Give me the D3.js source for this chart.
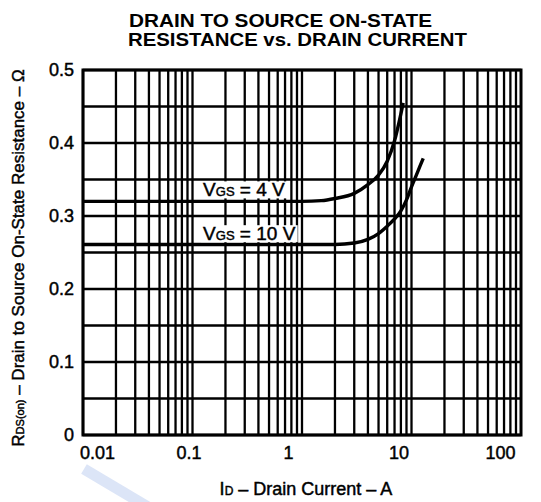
<!DOCTYPE html>
<html>
<head>
<meta charset="utf-8">
<script src="https://cdn.jsdelivr.net/npm/d3@7"></script>
<style>
  body { margin: 0; background: #fff; }
  svg { display: block; font-family: "Liberation Sans", Arial, Helvetica, sans-serif; }
  .ink { stroke: #000; stroke-width: 0.45px; }
</style>
</head>
<body>
<div id="chart"></div>
<script>
// chart values
var xTicks = [0.01, 0.1, 1, 10, 100];
var xTickLabels = ["0.01", "0.1", "1", "10", "100"];
var yTicks = [0, 0.1, 0.2, 0.3, 0.4, 0.5];
var yTickLabels = ["0", "0.1", "0.2", "0.3", "0.4", "0.5"];

// VGS = 4 V
var id4 = [0.01, 1, 1.5, 2, 3, 4, 5, 6, 7, 8, 8.4];
var r4 = [0.32, 0.32, 0.321, 0.324, 0.331, 0.343, 0.356, 0.375, 0.403, 0.44, 0.455];
// VGS = 10 V
var id10 = [0.01, 1, 2, 3, 4, 5, 6, 7, 8, 9, 10, 11, 12, 12.8];
var r10 = [0.261, 0.261, 0.261, 0.263, 0.268, 0.276, 0.286, 0.296, 0.307, 0.322, 0.34, 0.355, 0.369, 0.379];

var seriesLabels = ["4 V", "10 V"];

var width = 541, height = 502;
var margin = {top: 70, right: 20, bottom: 67, left: 83};

var svg = d3.select("#chart").append("svg")
    .attr("width", width)
    .attr("height", height);

var x = d3.scaleLog()
    .domain([0.01, 100])
    .range([margin.left, width - margin.right]);

var y = d3.scaleLinear()
    .domain([0, 0.5])
    .range([height - margin.bottom, margin.top]);

// light blue scan mark under the axis
svg.append("line")
    .attr("x1", 84).attr("y1", 469)
    .attr("x2", 148).attr("y2", 507)
    .attr("stroke", "#dce5f7")
    .attr("stroke-width", 11);

// log grid: 1..9 in every decade
var vLines = [];
for (var e = -2; e < 2; e++) {
    for (var k = 1; k < 10; k++) vLines.push(k * Math.pow(10, e));
}
var hLines = d3.range(0, 11).map(function (i) { return i * 0.05; });

var grid = svg.append("g").attr("stroke", "#000").attr("stroke-width", 2.3);
grid.selectAll("line.v")
    .data(vLines)
    .enter().append("line")
    .attr("class", "v")
    .attr("x1", function (d) { return x(d); })
    .attr("x2", function (d) { return x(d); })
    .attr("y1", y(0))
    .attr("y2", y(0.5));
grid.selectAll("line.h")
    .data(hLines)
    .enter().append("line")
    .attr("class", "h")
    .attr("x1", x(0.01))
    .attr("x2", x(100))
    .attr("y1", function (d) { return y(d); })
    .attr("y2", function (d) { return y(d); });

svg.append("rect")
    .attr("x", x(0.01))
    .attr("y", y(0.5))
    .attr("width", x(100) - x(0.01))
    .attr("height", y(0) - y(0.5))
    .attr("fill", "none")
    .attr("stroke", "#000")
    .attr("stroke-width", 3);

// curves
var line = d3.line()
    .x(function (d) { return x(d[0]); })
    .y(function (d) { return y(d[1]); })
    .curve(d3.curveMonotoneX);

[d3.zip(id4, r4), d3.zip(id10, r10)].forEach(function (pts) {
    svg.append("path")
        .datum(pts)
        .attr("d", line)
        .attr("fill", "none")
        .attr("stroke", "#000")
        .attr("stroke-width", 3.4);
});

// curve labels with white boxes
var labelAt = [[0.125, 0.32], [0.125, 0.26]];
seriesLabels.forEach(function (s, i) {
    var g = svg.append("g");
    var t = g.append("text")
        .attr("class", "ink")
        .attr("x", x(labelAt[i][0]))
        .attr("y", y(labelAt[i][1]) - 5)
        .attr("font-size", 19)
        .attr("fill", "#000");
    t.append("tspan").text("V");
    t.append("tspan").attr("font-size", 13).text("GS");
    t.append("tspan").text(" = " + s);
    var b = t.node().getBBox();
    g.insert("rect", "text")
        .attr("x", b.x - 2)
        .attr("y", b.y + 2)
        .attr("width", b.width + 4)
        .attr("height", b.height - 4)
        .attr("fill", "#fff");
});

// axes
var xShift = [14, -4, -14, -13, -21];
var xAxis = d3.axisBottom(x)
    .tickValues(xTicks)
    .tickSize(0)
    .tickPadding(0)
    .tickFormat(function (d, i) { return xTickLabels[i]; });
var gX = svg.append("g")
    .attr("transform", "translate(0," + (y(0) + 24) + ")")
    .call(xAxis);
gX.select(".domain").remove();
gX.selectAll("text")
    .attr("class", "ink")
    .attr("font-size", 18)
    .attr("font-family", null)
    .attr("fill", "#000")
    .attr("dy", 0)
    .attr("dx", function (d, i) { return xShift[i]; });

var yAxis = d3.axisLeft(y)
    .tickValues(yTicks)
    .tickSize(0)
    .tickPadding(9)
    .tickFormat(function (d, i) { return yTickLabels[i]; });
var gY = svg.append("g")
    .attr("transform", "translate(" + x(0.01) + ",0)")
    .call(yAxis);
gY.select(".domain").remove();
gY.selectAll("text")
    .attr("class", "ink")
    .attr("font-size", 18)
    .attr("font-family", null)
    .attr("fill", "#000");

// titles
var title = svg.append("g")
    .attr("font-weight", "bold")
    .attr("font-size", 19)
    .attr("text-anchor", "start");
title.append("text").attr("x", 129).attr("y", 27)
    .attr("textLength", 303).attr("lengthAdjust", "spacingAndGlyphs")
    .text("DRAIN TO SOURCE ON-STATE");
title.append("text").attr("x", 128).attr("y", 46)
    .attr("textLength", 339).attr("lengthAdjust", "spacingAndGlyphs")
    .text("RESISTANCE vs. DRAIN CURRENT");

var xt = svg.append("text")
    .attr("class", "ink")
    .attr("x", (x(0.01) + x(100)) / 2 + 4)
    .attr("y", 495)
    .attr("text-anchor", "middle")
    .attr("font-size", 18);
xt.append("tspan").text("I");
xt.append("tspan").attr("font-size", 12).text("D");
xt.append("tspan").text(" \u2013 Drain Current \u2013 A");

var yt = svg.append("text")
    .attr("class", "ink")
    .attr("transform", "translate(24," + 258 + ") rotate(-90)")
    .attr("text-anchor", "middle")
    .attr("font-size", 17);
yt.append("tspan").text("R");
yt.append("tspan").attr("font-size", 11).text("DS(on)");
yt.append("tspan").text(" \u2013 Drain to Source On-State Resistance \u2013 \u03a9");
</script>
</body>
</html>
